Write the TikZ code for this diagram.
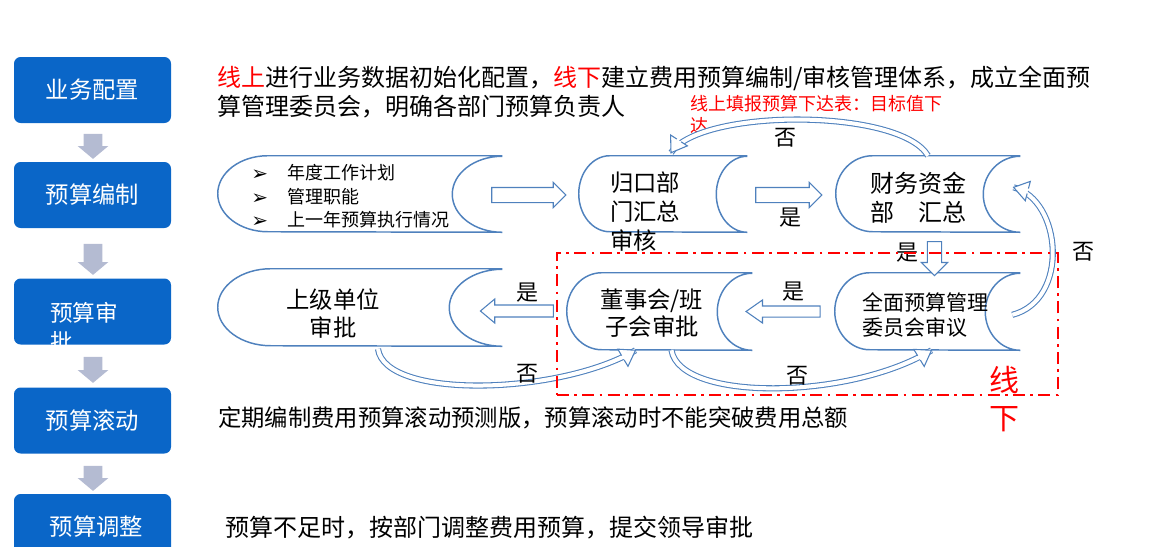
\documentclass[tikz,border=0pt]{standalone}
\usepackage{fontspec}
\setmainfont{Noto Sans CJK SC}
\newfontfamily\dejavu{DejaVu Sans}
\usetikzlibrary{shapes.arrows,calc}
\definecolor{boxblue}{HTML}{0A66C8}
\definecolor{garrow}{HTML}{B4BBD2}
\definecolor{sline}{HTML}{4F81BD}
\definecolor{lred}{HTML}{FF0000}
\newcommand\fsz[2]{\fontsize{#1}{#2}\selectfont}
\newcommand\sdshape[3]{%
  \draw[scrollline] (#1.north east) -- ([xshift=#2*0.75pt]#1.north west)
    arc[start angle=90,end angle=270,x radius=#2*0.75pt,y radius=#3*0.75pt]
    -- (#1.south east)
    arc[start angle=270,end angle=90,x radius=#2*0.75pt,y radius=#3*0.75pt];}
\newcommand\bhead[2]{%
  \coordinate (#1-b) at ($(#1)!11pt!(#2)$);
  \fill[white] (#1) -- ($(#1-b)!7.5pt!90:(#1)$) -- ($(#1-b)!1.9pt!90:(#1)$) -- ($(#1-b)!1.9pt!-90:(#1)$) -- ($(#1-b)!7.5pt!-90:(#1)$) -- cycle;
  \draw[sline, line width=0.8pt, line join=miter] ($(#1-b)!1.9pt!90:(#1)$) -- ($(#1-b)!7.5pt!90:(#1)$) -- (#1) -- ($(#1-b)!7.5pt!-90:(#1)$) -- ($(#1-b)!1.9pt!-90:(#1)$);}
\tikzset{
  stagebox/.style={fill=boxblue, rounded corners=5pt, minimum width=117.75pt, minimum height=49.5pt, inner sep=0pt, text=white, font=\fsz{17.5pt}{21pt}},
  grayarrow/.style={single arrow, fill=garrow, draw=none, inner xsep=0pt, inner ysep=6.75pt, minimum width=22.5pt, single arrow head extend=4.5pt, single arrow tip angle=100, rotate=270},
  blockarrow/.style={single arrow, draw=sline, fill=white, line width=0.8pt, inner xsep=0pt},
  scrollbox/.style={inner sep=0pt, draw=none},
  scrollline/.style={draw=sline, line width=1.1pt},
  txt/.style={inner sep=0pt},
  lbl/.style={inner sep=0pt, font=\fsz{16.5pt}{19pt}},
  band/.style={draw=sline, line width=0.8pt, double=white, double distance=3pt},
  offlinebox/.style={draw=lred, line width=1.9pt, dash pattern=on 9pt off 4pt on 2pt off 4pt, inner sep=0pt}
}
\newcommand\bl{\makebox[27pt][l]{\raisebox{-0.5pt}{\dejavu\fsz{15pt}{15pt}➢}}}
\begin{document}
\begin{tikzpicture}[x=0.75pt,y=-0.75pt]
\useasboundingbox (0,0) rectangle (1152,546);

% left stage boxes
\node[stagebox] (b1) at (92.5,90) {业务配置};
\node[stagebox] (b2) at (92.5,195) {预算编制};
\node[stagebox] (b3) at (92.5,311.5) {};
\node[txt, anchor=west, align=left, text=white, font=\fsz{17pt}{21.75pt}] (b3t) at (50,327.5) {预算审\\批};
\node[stagebox] (b4) at (92.5,420.5) {预算滚动};
\node[stagebox] (b5) at (92.5,527) {\hspace{6pt}预算调整};

% gray arrows
\node[grayarrow, minimum height=18.75pt] (g1) at (93,142.5) {};
\node[grayarrow, minimum height=23.25pt] (g2) at (93,255.5) {};
\node[grayarrow, minimum height=19.5pt] (g3) at (93,366) {};
\node[grayarrow, minimum height=18.75pt] (g4) at (93,474.5) {};

% top text
\node[txt, anchor=west, align=left, font=\fsz{18pt}{21.75pt}] (intro) at (217,92.5)
  {\textcolor{lred}{线上}进行业务数据初始化配置，\textcolor{lred}{线下}建立费用预算编制/审核管理体系，成立全面预\\算管理委员会，明确各部门预算负责人};
\node[txt, anchor=west, align=left, text=lred, font=\fsz{13.5pt}{16.5pt}] (note) at (690,114)
  {线上填报预算下达表：目标值下\\达};

% scroll shapes
\node[scrollbox, minimum width=213pt, minimum height=57pt] (s1) at (360,194) {};
\node[scrollbox, minimum width=126pt, minimum height=57pt] (s2) at (663,194) {};
\node[scrollbox, minimum width=138pt, minimum height=57pt] (s3) at (928,194) {};
\node[scrollbox, minimum width=213pt, minimum height=57.75pt] (s4) at (360,307.5) {};
\node[scrollbox, minimum width=138.75pt, minimum height=57.75pt] (s5) at (659.5,311.5) {};
\node[scrollbox, minimum width=138.75pt, minimum height=57.75pt] (s6) at (927.5,311.5) {};
\sdshape{s1}{50}{38}
\sdshape{s2}{31}{38}
\sdshape{s3}{37}{38}
\sdshape{s4}{53}{38.5}
\sdshape{s5}{35}{38.5}
\sdshape{s6}{35}{38.5}

% scroll texts
\node[txt, anchor=west, align=left, font=\fsz{13.5pt}{17.6pt}] (s1t) at (251,196.5)
  {\bl 年度工作计划\\\bl 管理职能\\\bl 上一年预算执行情况};
\node[txt, anchor=west, align=left, font=\fsz{17.5pt}{21.75pt}] (s2t) at (610,212) {归口部\\门汇总\\审核};
\node[txt, anchor=west, align=left, font=\fsz{18pt}{21.75pt}] (s3t) at (870,197.5) {财务资金\\部　汇总};
\node[txt, align=center, font=\fsz{17.5pt}{21pt}] (s4t) at (333,314) {上级单位\\审批};
\node[txt, align=center, font=\fsz{17.5pt}{20.25pt}] (s5t) at (652,313.5) {董事会/班\\子会审批};
\node[txt, anchor=west, align=left, font=\fsz{15.75pt}{18.75pt}] (s6t) at (862,314.5) {全面预算管理\\委员会审议};

% block arrows
\node[blockarrow, minimum height=55.5pt, inner ysep=5.25pt, minimum width=18pt, single arrow head extend=3.75pt, single arrow tip angle=90] (a1) at (525,195) {};
\node[blockarrow, minimum height=49.5pt, inner ysep=5.25pt, minimum width=18pt, single arrow head extend=3.75pt, single arrow tip angle=90] (a2) at (785,195) {};
\node[blockarrow, minimum height=25.5pt, inner ysep=4.9pt, minimum width=18.75pt, single arrow head extend=4.5pt, single arrow tip angle=90, rotate=270] (a3) at (934.5,255) {};
\node[blockarrow, minimum height=55.5pt, inner ysep=3.75pt, minimum width=16.5pt, single arrow head extend=4.5pt, single arrow tip angle=70, rotate=180] (a4) at (787,311.5) {};
\node[blockarrow, minimum height=54.75pt, inner ysep=4.1pt, minimum width=17.25pt, single arrow head extend=4.5pt, single arrow tip angle=80, rotate=180] (a5) at (520.5,311) {};

% curved arrows
\coordinate (c1a) at (900,108);
\coordinate (c1b) at (700,108);
\coordinate (c1e) at ([xshift=6pt,yshift=2.25pt]s2.north);
\draw[band] (s3.north) .. controls (c1a) and (c1b) .. (c1e);
\bhead{c1e}{c1b}

\coordinate (c2a) at (1070,300);
\coordinate (c2b) at (1062,200);
\coordinate (c2e) at ([xshift=-5pt,yshift=5pt]s3.east);
\draw[band] ([xshift=-6pt,yshift=-2.5pt]s6.east) .. controls (c2a) and (c2b) .. (c2e);
\bhead{c2e}{c2b}

\coordinate (c3a) at (385,400);
\coordinate (c3b) at (560,395);
\coordinate (c3e) at ([xshift=-18pt]s5.south);
\draw[band] ([xshift=13.5pt,yshift=-2pt]s4.south) .. controls (c3a) and (c3b) .. (c3e);
\bhead{c3e}{c3b}

\coordinate (c4a) at (680,402);
\coordinate (c4b) at (850,400);
\coordinate (c4e) at ([xshift=3pt]s6.south);
\draw[band] ([xshift=9pt]s5.south) .. controls (c4a) and (c4b) .. (c4e);
\bhead{c4e}{c4b}

% labels
\node[lbl] (y1) at (790,218) {是};
\node[lbl] (y2) at (907,253) {是};
\node[lbl] (y3) at (793,292) {是};
\node[lbl] (y4) at (527,293) {是};
\node[lbl] (n1) at (785,138) {否};
\node[lbl] (n2) at (1083,252) {否};
\node[lbl] (n3) at (527,374) {否};
\node[lbl] (n4) at (797,376) {否};

% offline frame
\node[offlinebox, minimum width=375.75pt, minimum height=106.5pt] (off) at (807.5,324) {};
\node[txt, align=center, text=lred, font=\fsz{22.5pt}{28.5pt}] (offt) at (1004,399) {线\\下};

% bottom texts
\node[txt, anchor=west, font=\fsz{17.5pt}{21pt}] (roll) at (218,418) {定期编制费用预算滚动预测版，预算滚动时不能突破费用总额};
\node[txt, anchor=west, font=\fsz{18pt}{21pt}] (adj) at (225,528) {预算不足时，按部门调整费用预算，提交领导审批};
\end{tikzpicture}
\end{document}
